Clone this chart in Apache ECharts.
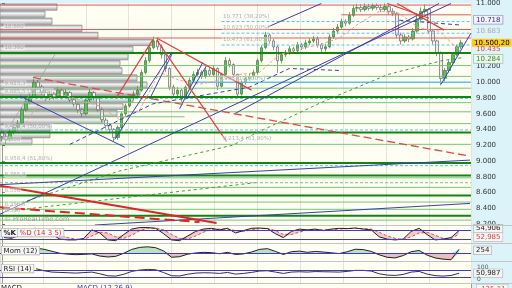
<!DOCTYPE html>
<html><head><meta charset="utf-8">
<script src="https://cdn.jsdelivr.net/npm/echarts@6/dist/echarts.min.js"></script>
<style>html,body{margin:0;padding:0;background:#fff}#c{width:512px;height:288px}</style>
</head><body><div id="c"></div>
<script>
// ---------- price candles ----------
const opens = [9360,9310,9280,9370,9430,9480,9650,9745,9815,10000,
9940,9870,9800,9850,9815,9900,9815,9870,9780,9720,
9650,9600,9775,9870,9800,9650,9520,9450,9400,9300,
9425,9600,9700,9800,9850,9900,10125,10275,10440,10525,
10450,10350,10175,9940,9850,9900,9800,9940,10025,10100,
10125,10075,10150,10100,10175,9950,10100,10275,10225,10100,
9850,10000,10050,10075,10125,10275,10440,10600,10525,10450,
10275,10350,10375,10425,10400,10475,10450,10500,10525,10550,
10475,10425,10450,10575,10650,10700,10775,10750,10850,10940,
10950,10925,10960,10940,10975,10950,10925,10960,10900,10875,
10600,10525,10575,10550,10650,10800,10900,10925,10650,10525,
10375,10050,10150,10250,10350,10450];
const closes = [9312,9275,9375,9425,9475,9650,9750,9812,10000,9938,
9875,9800,9850,9812,9900,9812,9875,9775,9725,9650,
9600,9775,9875,9800,9650,9525,9450,9400,9300,9425,
9600,9700,9800,9850,9900,10125,10275,10438,10525,10450,
10350,10175,9938,9850,9900,9800,9938,10025,10100,10125,
10075,10150,10100,10175,9950,10100,10275,10225,10100,9850,
10000,10050,10075,10125,10275,10438,10600,10525,10450,10275,
10350,10375,10425,10400,10475,10450,10500,10525,10550,10475,
10425,10450,10575,10650,10700,10775,10750,10850,10938,10950,
10925,10962,10938,10975,10950,10925,10962,10900,10875,10600,
10525,10575,10550,10650,10800,10900,10925,10650,10525,10375,
10050,10150,10250,10350,10450,10500.2];
const highs = [9400,9350,9410,9460,9520,9680,9790,9860,10040,10030,
9970,9900,9890,9880,9940,9930,9910,9890,9800,9740,
9670,9800,9910,9890,9820,9670,9550,9480,9420,9450,
9620,9730,9830,9890,9950,10160,10320,10470,10580,10560,
10480,10370,10190,9970,9940,9920,9960,10060,10140,10170,
10150,10190,10180,10210,10190,10120,10320,10310,10240,10110,
10030,10090,10110,10160,10300,10470,10640,10620,10550,10470,
10380,10410,10460,10450,10510,10500,10540,10560,10590,10580,
10500,10490,10610,10690,10740,10810,10800,10890,10980,10995,
10990,11000,10995,11000,11000,10990,11000,10990,10940,10890,
10630,10610,10600,10690,10840,10950,10990,10940,10680,10540,
10390,10180,10280,10380,10480,10540];
const lows = [9250,9220,9250,9340,9400,9460,9620,9720,9800,9900,
9840,9760,9770,9780,9790,9780,9790,9740,9690,9610,
9560,9580,9750,9770,9620,9490,9410,9350,9250,9270,
9400,9570,9680,9770,9820,9880,10100,10250,10420,10410,
10300,10130,9900,9800,9820,9750,9780,9910,10000,10070,
10040,10050,10070,10080,9900,9930,10080,10190,10060,9820,
9830,9970,10020,10050,10100,10250,10420,10490,10410,10120,
10240,10320,10350,10360,10380,10410,10420,10470,10500,10440,
10380,10390,10430,10550,10620,10680,10710,10730,10830,10900,
10890,10900,10910,10910,10920,10890,10900,10860,10840,10560,
10480,10500,10510,10530,10630,10780,10870,10620,10480,10330,
9960,10010,10120,10220,10330,10420];
const slotCount = 118;

// ---------- axis ticks ----------
const priceTicks = [8200,8400,8600,8800,9000,9200,9400,9600,9800,10000,10200,11000];
const flagPrices = [10718, 10683, 10500.2, 10435, 10284];
const flagTexts = ['10.718','10.683','10.500,20','10.435','10.284'];

// ---------- volume by price ----------
const volumeBinTops = [11000,10910,10820,10730,10640,10550,10460,10370,10280,10190,10100,10010,9920,9830,9740,9650,9560,9470,9380,9290];
const volumeBinSize = 90;
const volumeBinVolumes = [570,450,520,820,980,1530,1330,1280,1200,1220,1370,1470,1400,1330,1230,1170,1030,500,500,320];

// ---------- horizontal levels [price, fromBar, toBar] ----------
const darkGreenLevels = [[10370,-0.5,117.5],[9812,-0.5,117.5],[9362,-0.5,117.5],[8975,-0.5,117.5],[8816,-0.5,117.5],[8562,-0.5,117.5],[8304,-0.5,117.5]];
const lightGreenLevels = [[10212,-0.5,117.5],[10075,8,117.5],[9925,-0.5,117.5],[9741,-0.5,117.5],[9625,5.75,117.5],[9562,22,45.75],[9475,13.25,117.5],[9212,-0.5,117.5],[8787,-0.5,117.5],[8666,-0.5,117.5],[8479,-0.5,117.5],[8387,-0.5,117.5],[8250,-0.5,117.5]];
const lightGreenDashedLevels = [[8725,-0.5,117.5]];
const redLevels = [[10980,-0.5,117.5],[10856,85,117.5],[10670,-0.5,117.5],[10562,-0.5,117.5]];
const cyanDashedLevels = [[10771,55,117.5],[10623,55,117.5],[10473,55,117.5],[9795,-0.5,117.5],[9395,-0.5,117.5],[8941,-0.5,117.5]];
const cyanSolidLevels = [[10000,47,117.5]];

// ---------- trend lines [[bar, price], ...] ----------
const blueTrendLines = [
 [[4.5,9825],[30.75,9175]],
 [[28.25,9275],[42.5,10375]],
 [[-0.5,8325],[112.5,11000]],
 [[58.25,9600],[109.5,11000]],
 [[66.5,10700],[80,11000]],
 [[110,9975],[117.5,10625]],
 [[-0.5,8700],[117.25,9012]],
 [[23.25,8188],[117.25,8462]],
 [[44.5,9662],[50.25,10250]],
 [[37,9788],[42.75,10375]],
 [[46.25,9788],[51.25,10212]]
];
const blueDashedLines = [
 [[17,9212],[37.75,9725],[62,9938],[72,10175],[84.5,10150]],
 [[99.5,10788],[115.25,10725]]
];
const redTrendLines = [
 [[38.75,10562],[62.5,9900]],
 [[28.75,9812],[37.75,10538]],
 [[38.75,10538],[56.25,9250]],
 [[99,11000],[110.75,10662]],
 [[96.5,11000],[107,10812]]
];
const redThickLine = [[-0.5,8688],[53.75,8212]];
const redThickDashedLine = [[-0.5,8412],[49.5,8225]];
const redDashedLine = [[7.75,10062],[117.25,9062]];
const pinkAverage = [[4.5,9375],[9.5,9750],[14.5,9850],[19.5,9775],[24.5,9700],[29.5,9525],[34.5,9650],[39.5,10125],[44.5,10025],[49.5,9975],[54.5,10025],[59.5,10100],[64.5,10125],[69.5,10350],[74.5,10425],[79.5,10475],[84.5,10562],[89.5,10750],[94.5,10900],[99.5,10875],[104.5,10688],[109.5,10650],[115.25,10375]];
const greenAverage = [[2,8425],[29.5,8875],[57.75,9200],[63.5,9350],[80.25,9750],[96.75,10100],[110.25,10275],[115.25,10312]];
const greenAverage2 = [[3.25,8375],[63.5,8725]];
const grayLine = [[-0.5,9250],[13.25,10350]];

// ---------- annotations ----------
const noteTexts = ['10.660','10.360','9.923,3','9.885,5 (38,20%)','9.458,4 (50,00%)','9.300','10.771 (38,20%)','10.623 (50,00%)','10.473 (61,80%)','9.996 (100,00%)','9.213,4 (61,80%)','8.958,4 (61,80%)','8.765,8','8.550','8.350,8','8.300','© ProRealTime.com'];
const noteBars = [0.25,0.25,0.25,0.25,0.25,0.25,55,55,55,54,55,0.25,0.25,0.25,0.25,0.25,0.25];
const notePrices = [10712,10438,9988,9888,9438,9275,10838,10688,10538,10050,9288,9025,8825,8625,8450,8375,8262];

// ---------- indicators (every 2nd bar) ----------
const stochK = [30,25,60,85,90,70,50,20,15,15,25,80,60,15,10,50,85,95,95,90,55,15,10,40,70,85,90,80,90,60,75,90,92,88,55,30,70,85,80,85,75,85,90,88,92,85,80,35,20,15,20,70,90,50,15,20,30,75];
const stochD = [35,30,40,60,80,80,65,45,30,20,18,40,65,60,35,25,45,75,90,92,80,50,25,20,40,65,82,85,85,75,70,78,88,90,75,50,50,65,80,82,80,80,85,88,90,88,85,65,40,25,18,35,60,65,45,25,22,52.985];
const momentum = [null,null,null,null,330,260,130,0,-60,-90,-70,-40,-180,-240,-200,0,250,380,420,360,150,-260,-220,-60,20,60,40,-30,60,-80,-40,80,250,300,120,-80,100,140,60,120,80,30,-20,100,260,240,120,-100,-260,-300,-150,100,180,-120,-300,-380,-420,254];
const rsi = [null,null,null,null,78,66,58,56,54,52,55,58,48,36,34,45,62,70,74,72,55,36,35,45,52,54,53,50,56,46,50,56,64,66,58,50,58,60,58,61,60,59,58,62,68,68,64,48,40,38,44,58,62,46,37,34,38,50.987];
const stochFlagTexts = ['54,906','52,985'];
const momFlagText = '254';
const rsiFlagTexts = ['100','50,987','0'];

// ---------- build ----------
const FONT = 'DejaVu Sans';
const fmtPrice = v => Math.round(v).toString().replace(/\B(?=(\d{3})+(?!\d))/g, '.');
const slots = Array.from({length: slotCount}, (_, i) => String(i));
const indSlots = Array.from({length: 59}, (_, i) => String(i));
const candleData = opens.map((o, i) => [o, closes[i], lows[i], highs[i]]);
const volumeData = volumeBinTops.map((t, k) => [volumeBinVolumes[k], t - volumeBinSize, t]);
const NOLINE = {color:'rgba(0,0,0,0)', width:0};

const series = [];
function addLine(points, color, width, type, z) {
  series.push({type:'line', xAxisIndex:1, yAxisIndex:0, data:points, symbol:'none', silent:true,
    lineStyle:{color:color, width:width, type:type || 'solid'}, z:z || 4});
}
function addLevels(levels, color, width, type) {
  levels.forEach(l => addLine([[l[1], l[0]], [l[2], l[0]]], color, width, type));
}

series.push({
  type:'custom', xAxisIndex:2, yAxisIndex:0, data:volumeData, silent:true, z:1,
  renderItem: function(params, api) {
    const p0 = api.coord([0, api.value(2)]);
    const p1 = api.coord([api.value(0), api.value(1)]);
    return {type:'rect', shape:{x:p0[0], y:p0[1] + 0.4, width:p1[0] - p0[0], height:p1[1] - p0[1] - 0.8},
      style:{fill:new echarts.graphic.LinearGradient(0,0,0,1,[{offset:0,color:'#aaaaaa'},{offset:0.4,color:'#f2f2f2'},{offset:1,color:'#a4a4a4'}]),
        stroke:'#858585', lineWidth:0.7}};
  }
});

const flagStyles = [
  {color:'#2b2b9b', backgroundColor:'#f4f4ff', borderColor:'#9a9ab8', borderWidth:0.8, offset:[0,-6]},
  {color:'#a9a9a9', offset:[0,3]},
  {color:'#000', backgroundColor:'#ffcc11', offset:[-2,0]},
  {color:'#e04040', offset:[0,1.5]},
  {color:'#2e8b2e', backgroundColor:'#eef6ee', borderColor:'#a8c8a8', borderWidth:0.8, offset:[0,-1]}
];
const flagLabel = (text, extra) => Object.assign({show:true, position:'end', distance:3, formatter:text,
  fontSize:7, fontFamily:FONT, padding:[1,2,0,2]}, extra);

series.push({
  type:'candlestick', xAxisIndex:0, yAxisIndex:0, data:candleData, barWidth:3, z:3, silent:true,
  itemStyle:{color:'#5fbf5f', color0:'#efefef', borderColor:'#3c7c3c', borderColor0:'#666', borderWidth:0.7}
});
// flags on the right price axis
series.push({
  type:'line', xAxisIndex:1, yAxisIndex:0, data:[[-0.5, 10000],[117.5, 10000]], symbol:'none', silent:true, z:7,
  lineStyle:NOLINE,
  markLine:{symbol:'none', silent:true, animation:false,
    data: flagPrices.map((p, k) => ({yAxis:p, lineStyle:NOLINE, label:flagLabel(flagTexts[k], flagStyles[k])}))}
});

addLevels(lightGreenLevels, '#79c479', 1);
addLevels(lightGreenDashedLevels, '#79c479', 1, [3,2]);
addLevels(cyanDashedLevels, '#5cc3f0', 1, [3,2]);
addLevels(cyanSolidLevels, '#5cc3f0', 1.5);
addLevels(redLevels, '#e25a5a', 1);
addLevels(darkGreenLevels, '#0f870f', 2);
addLine(greenAverage, '#3f9f3f', 1, [3,3]);
addLine(greenAverage2, '#3f9f3f', 1, [3,3]);
addLine(pinkAverage, '#f29a9a', 1, [3,2]);
addLine(grayLine, '#a0a0a0', 0.8);
blueDashedLines.forEach(l => addLine(l, '#3c3cb4', 1, [4,3]));
blueTrendLines.forEach(l => addLine(l, '#3c3cb4', 1));
redTrendLines.forEach(l => addLine(l, '#e23c3c', 1.2));
addLine(redDashedLine, '#e24848', 1.3, [8,4]);
addLine(redThickLine, '#e02424', 2);
addLine(redThickDashedLine, '#e02424', 2, [10,5]);

series.push({
  type:'scatter', xAxisIndex:1, yAxisIndex:0, symbolSize:1, silent:true, z:6,
  itemStyle:{color:'transparent'},
  data: noteTexts.map((t, k) => ({value:[noteBars[k], notePrices[k]],
    label: k === noteTexts.length - 1 ? {formatter:t, fontSize:6.5, color:'#8a8a8a', backgroundColor:'transparent'} : {formatter:t}})),
  label:{show:true, position:'right', distance:0, fontSize:5.5, fontFamily:FONT, color:'#9a9a9a',
    backgroundColor:'rgba(255,255,255,0.5)', padding:[0,1]}
});

// stochastic
const blueRef = {color:'#3b3bd0', width:1, type:'solid'};
const stochLow = stochK.map((k, i) => Math.min(k, stochD[i]));
const stochGap = stochK.map((k, i) => Math.abs(k - stochD[i]));
series.push({type:'line', xAxisIndex:3, yAxisIndex:1, data:stochLow, stack:'st', symbol:'none', silent:true, z:2,
  lineStyle:NOLINE});
series.push({type:'line', xAxisIndex:3, yAxisIndex:1, data:stochGap, stack:'st', symbol:'none', silent:true, z:2,
  lineStyle:NOLINE, areaStyle:{color:'#f0b4b4'}});
series.push({type:'line', xAxisIndex:3, yAxisIndex:1, data:stochD, symbol:'none', silent:true, z:3,
  lineStyle:{color:'#e05050', width:1, type:[3,2]}});
series.push({type:'line', xAxisIndex:3, yAxisIndex:1, data:stochK, symbol:'none', silent:true, z:4,
  lineStyle:{color:'#222', width:1},
  markLine:{symbol:'none', silent:true, animation:false, data:[
    {yAxis:80, lineStyle:blueRef, label:{show:false}},
    {yAxis:20, lineStyle:blueRef, label:{show:false}},
    {yAxis:stochK[stochK.length-1], lineStyle:NOLINE, label:flagLabel(stochFlagTexts[0], {offset:[0,-2], color:'#222', backgroundColor:'#f4f4f4', borderColor:'#aaa', borderWidth:0.6})},
    {yAxis:stochD[stochD.length-1], lineStyle:NOLINE, label:flagLabel(stochFlagTexts[1], {offset:[0,3], color:'#e04040', backgroundColor:'#f6f6f6', borderColor:'#bbb', borderWidth:0.6})}
  ]}});

// momentum
const momUp = momentum.map(v => v == null ? null : Math.max(v, 0));
const momDown = momentum.map(v => v == null ? null : Math.min(v, 0));
series.push({type:'line', xAxisIndex:4, yAxisIndex:2, data:momUp, symbol:'none', silent:true, z:2,
  lineStyle:NOLINE, areaStyle:{color:'#9fd69f', origin:0}});
series.push({type:'line', xAxisIndex:4, yAxisIndex:2, data:momDown, symbol:'none', silent:true, z:2,
  lineStyle:NOLINE, areaStyle:{color:'#e2a4a4', origin:0}});
series.push({type:'line', xAxisIndex:4, yAxisIndex:2, data:momentum, symbol:'none', silent:true, z:4,
  lineStyle:{color:'#222', width:1},
  markLine:{symbol:'none', silent:true, animation:false, data:[
    {yAxis:0, lineStyle:blueRef, label:{show:false}},
    {yAxis:momentum[momentum.length-1], lineStyle:NOLINE, label:flagLabel(momFlagText, {offset:[0,1], color:'#222', backgroundColor:'#f4f4f4', borderColor:'#aaa', borderWidth:0.6})}
  ]}});

// RSI
series.push({type:'line', xAxisIndex:5, yAxisIndex:3, data:rsi, symbol:'none', silent:true, z:4,
  lineStyle:{color:'#333', width:1},
  markLine:{symbol:'none', silent:true, animation:false, data:[
    {yAxis:70, lineStyle:blueRef, label:{show:false}},
    {yAxis:30, lineStyle:blueRef, label:{show:false}},
    {yAxis:100, lineStyle:NOLINE, label:flagLabel(rsiFlagTexts[0], {distance:6, offset:[0,2], color:'#555', fontSize:6, padding:0})},
    {yAxis:rsi[rsi.length-1], lineStyle:NOLINE, label:flagLabel(rsiFlagTexts[1], {color:'#222', backgroundColor:'#f4f4f4', borderColor:'#aaa', borderWidth:0.6})},
    {yAxis:0, lineStyle:NOLINE, label:flagLabel(rsiFlagTexts[2], {distance:6, offset:[0,-2], color:'#555', fontSize:6, padding:0})}
  ]}});

const hiddenCat = (grid, data) => ({type:'category', gridIndex:grid, data:data, boundaryGap:true, show:false});
const splitVal = grid => ({type:'value', gridIndex:grid, min:-0.5, max:117.5, interval:10.75,
  axisLine:{show:false}, axisTick:{show:false}, axisLabel:{show:false},
  splitLine:{show:true, lineStyle:{color:'#e4e4dc', width:1}}});
const plainY = (grid, min, max) => ({type:'value', gridIndex:grid, position:'right', min:min, max:max,
  axisLine:{show:true, lineStyle:{color:'#9a9a9a'}}, axisTick:{show:false}, axisLabel:{show:false}, splitLine:{show:false}});

const gridBg = {show:true, backgroundColor:'#fefef3', borderWidth:0};
const option = {
  animation:false,
  backgroundColor:'#dcf4f9',
  grid:[
    Object.assign({left:0, top:0, width:471, height:225}, gridBg),
    Object.assign({left:0, top:226, width:471, height:17}, gridBg),
    Object.assign({left:0, top:244, width:471, height:17}, gridBg),
    Object.assign({left:0, top:262, width:471, height:21}, gridBg),
    Object.assign({left:0, top:284, width:471, height:20}, gridBg)
  ],
  xAxis:[
    hiddenCat(0, slots), splitVal(0),
    {type:'value', gridIndex:0, min:0, max:4710, show:false},
    hiddenCat(1, indSlots), hiddenCat(2, indSlots), hiddenCat(3, indSlots),
    splitVal(1), splitVal(2), splitVal(3), hiddenCat(4, indSlots)
  ],
  yAxis:[
    {type:'value', gridIndex:0, position:'right', min:8188, max:11000,
      axisLine:{show:true, lineStyle:{color:'#9a9a9a'}},
      axisTick:{show:true, customValues:priceTicks, length:3, lineStyle:{color:'#666'}},
      axisLabel:{customValues:priceTicks, formatter:v => fmtPrice(v), fontSize:7, fontFamily:FONT, color:'#333', margin:5},
      splitLine:{show:false}},
    plainY(1, -5, 105), plainY(2, -500, 600), plainY(3, -7, 118), plainY(4, 0, 1)
  ],
  graphic:[
    {type:'line', shape:{x1:0, y1:225.5, x2:512, y2:225.5}, style:{stroke:'#c4c4c4', lineWidth:1}, z:50},
    {type:'line', shape:{x1:0, y1:243.5, x2:512, y2:243.5}, style:{stroke:'#c4c4c4', lineWidth:1}, z:50},
    {type:'line', shape:{x1:0, y1:261.5, x2:512, y2:261.5}, style:{stroke:'#c4c4c4', lineWidth:1}, z:50},
    {type:'line', shape:{x1:0, y1:283.5, x2:512, y2:283.5}, style:{stroke:'#c4c4c4', lineWidth:1}, z:50},
    {type:'text', left:1, top:228, z:60, style:{text:'%K', fontSize:7, fontFamily:FONT, fontWeight:'bold', fill:'#222', backgroundColor:'#f6f6f6', borderColor:'#aaa', borderWidth:0.6, padding:[1,2,0,2]}},
    {type:'text', left:17, top:228, z:60, style:{text:'%D (14 3 5)', fontSize:7, fontFamily:FONT, fill:'#d03030', backgroundColor:'#f6f6f6', borderColor:'#aaa', borderWidth:0.6, padding:[1,2,0,2]}},
    {type:'text', left:1, top:246, z:60, style:{text:'Mom (12)', fontSize:7, fontFamily:FONT, fill:'#222', backgroundColor:'#f6f6f6', borderColor:'#aaa', borderWidth:0.6, padding:[1,2,0,2]}},
    {type:'text', left:1, top:264, z:60, style:{text:'RSI (14)', fontSize:7, fontFamily:FONT, fill:'#222', backgroundColor:'#f6f6f6', borderColor:'#aaa', borderWidth:0.6, padding:[1,2,0,2]}},
    {type:'text', left:1, top:285, z:60, style:{text:'MACD', fontSize:7, fontFamily:FONT, fill:'#222'}},
    {type:'text', left:77, top:285, z:60, style:{text:'MACD (12 26 9)', fontSize:7, fontFamily:FONT, fill:'#3b3bb0'}},
    {type:'text', left:476, top:284, z:60, style:{text:'-125,11', fontSize:7, fontFamily:FONT, fill:'#e04040', backgroundColor:'#f6f6f6', borderColor:'#bbb', borderWidth:0.6, padding:[1,2,0,2]}}
  ],
  series: series
};
const chart = echarts.init(document.getElementById('c'), null, {renderer:'canvas', width:512, height:288});
chart.setOption(option);
</script>
</body></html>
